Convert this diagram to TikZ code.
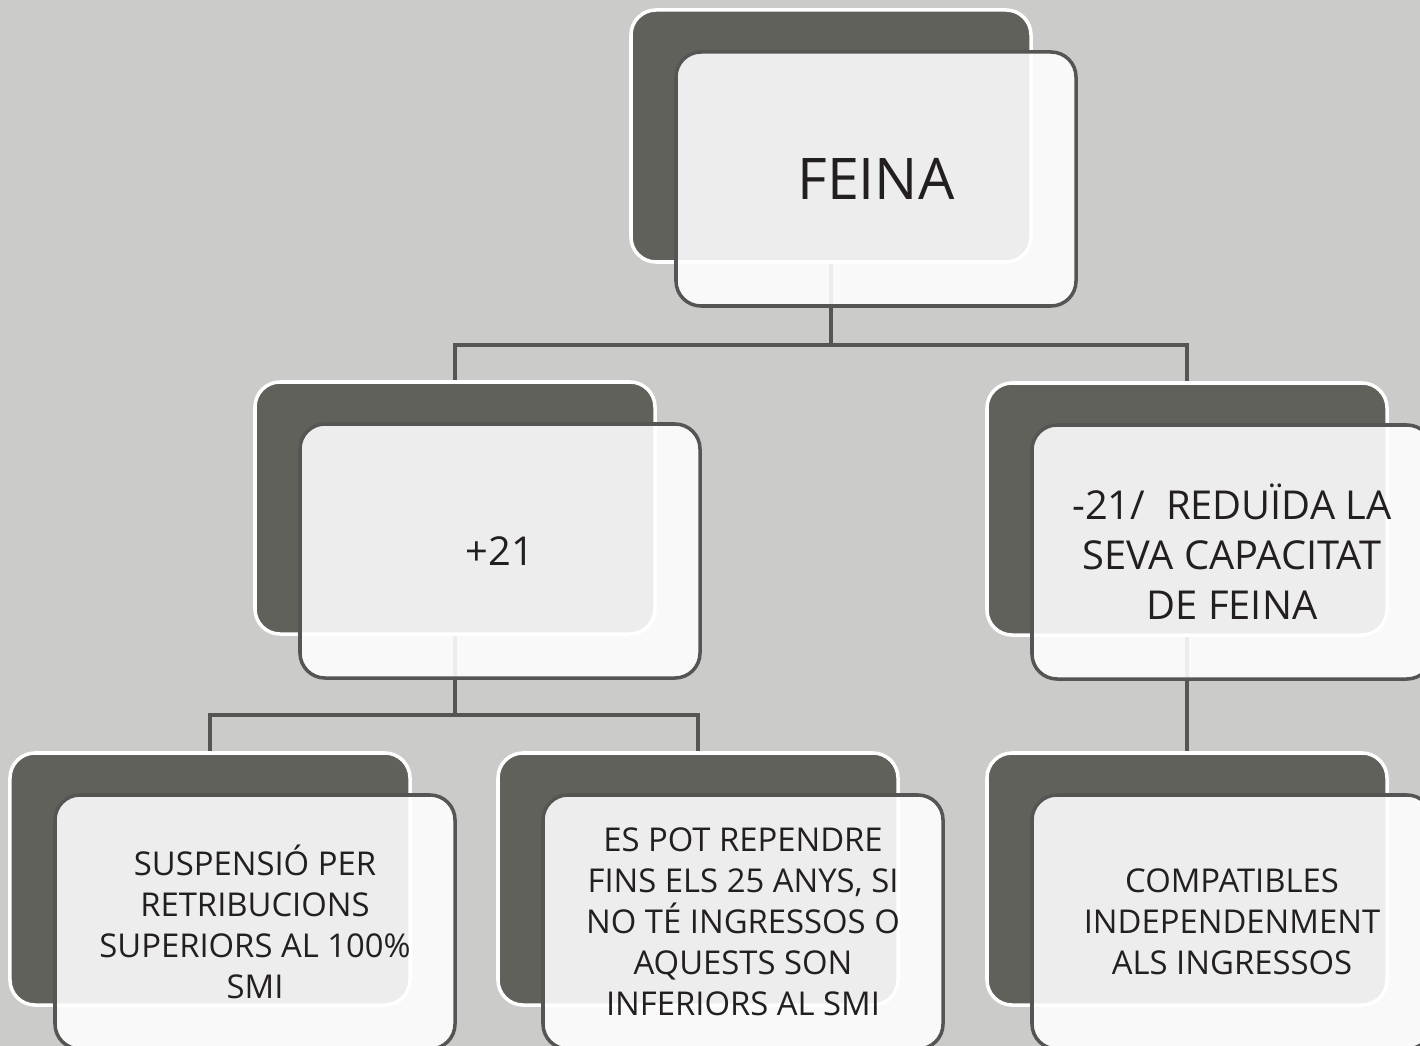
\documentclass[tikz,border=0pt]{standalone}
\usepackage{fontspec}
\setmainfont{Open Sans}
\usepackage{xcolor}
\usepackage{tikz}
\usetikzlibrary{positioning,calc}
\definecolor{canvas}{RGB}{203,203,201}
\definecolor{boxdark}{RGB}{97,97,92}
\definecolor{boxline}{RGB}{85,85,83}
\definecolor{boxtext}{RGB}{35,31,32}
\tikzset{
backbox/.style={
  draw=white,
  line width=3pt,
  fill=boxdark,
  rounded corners=0.75cm,
  minimum width=12cm,
  minimum height=7.56cm,
  inner sep=0pt
  },
frontbox/.style={
  draw=boxline,
  line width=3pt,
  fill=white,
  fill opacity=0.89,
  text opacity=1,
  rounded corners=0.75cm,
  minimum width=12cm,
  minimum height=7.62cm,
  inner sep=0pt,
  align=center,
  text=boxtext,
  xshift=1.35cm,
  yshift=-1.29cm
  },
link/.style={
  draw=boxline,
  line width=3.4pt
  },
bigtext/.style={font=\fontsize{49}{56}\selectfont},
midtext/.style={font=\fontsize{34}{42.5}\selectfont},
smalltext/.style={font=\fontsize{28}{35}\selectfont}
}

\begin{document}
\begin{tikzpicture}[x=0.03cm,y=-0.03cm]
% the canvas
\clip (0,0) rectangle (1420,1046);
\fill[canvas] (0,0) rectangle (1420,1046);

% the shapes
\node[backbox] at (831,136) (feina) {};
\node[backbox] at (455,508) (plus) {};
\node[backbox] at (1187,509) (minus) {};
\node[backbox] at (210,879) (susp) {};
\node[backbox] at (698,879) (repren) {};
\node[backbox] at (1187,879) (compat) {};
\path
  (831,345) coordinate (split1)
  (455,715) coordinate (split2);

%the links
\draw[link] (feina.south) -- (split1) -| (plus.north);
\draw[link] (split1) -| (minus.north);
\draw[link] (plus.south) -- (split2) -| (susp.north);
\draw[link] (split2) -| (repren.north);
\draw[link] (minus.south) -- (compat.north);

% the front boxes
\node[frontbox,bigtext] at (feina.center) (feina-f) {FEINA};
\node[frontbox,midtext] at (plus.center) (plus-f) {+21};
\node[frontbox,midtext] at (minus.center) (minus-f)
  {-21/\ \ REDUÏDA LA\\SEVA CAPACITAT\\DE FEINA};
\node[frontbox,smalltext] at (susp.center) (susp-f)
  {SUSPENSIÓ PER\\RETRIBUCIONS\\SUPERIORS AL 100\%\\SMI};
\node[frontbox,smalltext] at (repren.center) (repren-f)
  {ES POT REPENDRE\\FINS ELS 25 ANYS, SI\\NO TÉ INGRESSOS O\\AQUESTS SON\\INFERIORS AL SMI};
\node[frontbox,smalltext] at (compat.center) (compat-f)
  {COMPATIBLES\\INDEPENDENMENT\\ALS INGRESSOS};
\end{tikzpicture}
\end{document}
